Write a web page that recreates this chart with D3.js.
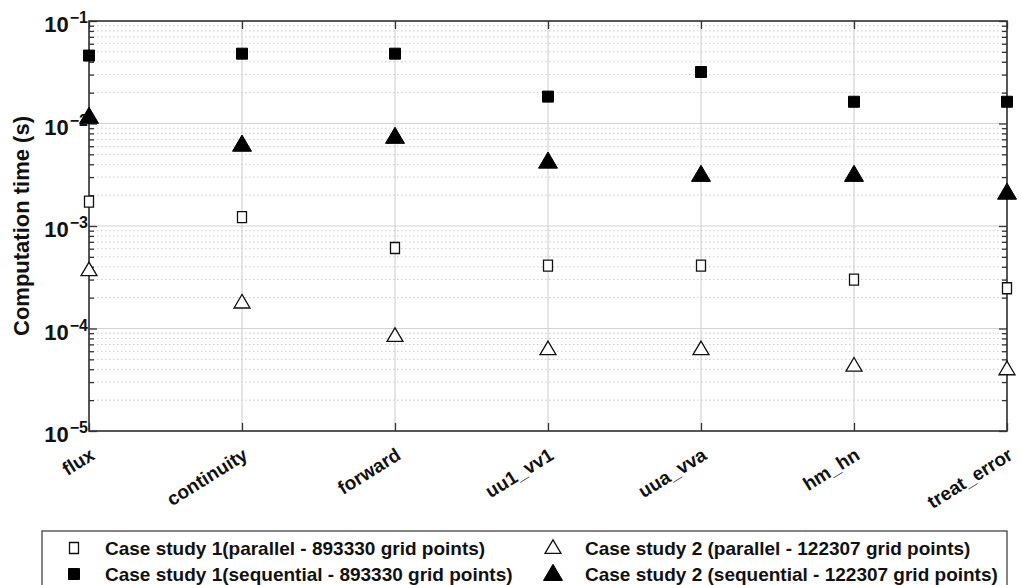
<!DOCTYPE html>
<meta charset="utf-8">
<script src="https://d3js.org/d3.v7.min.js"></script>
<style>
body { margin: 0; background: #fff; font-family: "Liberation Sans", Arial, sans-serif; }
text { font-family: "Liberation Sans", Arial, sans-serif; font-weight: bold; }
</style>
<div id="chart"></div>
<script>

// categories and measured timings (s)
var categories = ["flux", "continuity", "forward", "uu1_vv1", "uua_vva", "hm_hn", "treat_error"];
var case1Parallel   = [0.00173, 0.00122, 0.00061, 0.00041, 0.00041, 0.00030, 0.000247];
var case1Sequential = [0.046, 0.048, 0.048, 0.0183, 0.0318, 0.0163, 0.0163];
var case2Parallel   = [0.00037, 0.000179, 0.0000845, 0.0000627, 0.0000627, 0.0000434, 0.00004];
var case2Sequential = [0.0116, 0.0062, 0.0074, 0.00424, 0.00315, 0.00315, 0.00211];
var yTickExponents = [-1, -2, -3, -4, -5];
var legendLabels = [
  "Case study 1(parallel - 893330 grid points)",
  "Case study 1(sequential - 893330 grid points)",
  "Case study 2 (parallel - 122307 grid points)",
  "Case study 2 (sequential - 122307 grid points)"
];

var W = 1021, H = 585;
var margin = {top: 21, right: 14, bottom: 154, left: 89},
    width = W - margin.left - margin.right,
    height = H - margin.top - margin.bottom;

var svg = d3.select("#chart").append("svg")
    .attr("width", W)
    .attr("height", H);
var g = svg.append("g")
    .attr("transform", "translate(" + margin.left + "," + margin.top + ")");

var x = d3.scalePoint().domain(categories).range([0, width]).padding(0);
var y = d3.scaleLog().domain([1e-5, 1e-1]).range([height, 0]);

// minor values
var minors = [];
for (var e = -5; e < -1; e++) {
  for (var m = 2; m <= 9; m++) minors.push(m * Math.pow(10, e));
}
var majors = yTickExponents.map(function(d) { return Math.pow(10, d); });

// grid
g.append("g").selectAll("line").data(minors).enter().append("line")
  .attr("x1", 0).attr("x2", width)
  .attr("y1", function(d) { return y(d); }).attr("y2", function(d) { return y(d); })
  .attr("stroke", "#c8c8c8").attr("stroke-width", 1).attr("stroke-dasharray", "1.5,2.5");
g.append("g").selectAll("line").data(majors).enter().append("line")
  .attr("x1", 0).attr("x2", width)
  .attr("y1", function(d) { return y(d); }).attr("y2", function(d) { return y(d); })
  .attr("stroke", "#d4d4d4").attr("stroke-width", 1.2);
g.append("g").selectAll("line").data(categories).enter().append("line")
  .attr("x1", function(d) { return x(d); }).attr("x2", function(d) { return x(d); })
  .attr("y1", 0).attr("y2", height)
  .attr("stroke", "#d4d4d4").attr("stroke-width", 1.2);

// axes (ticks pointing inward)
var axisColor = "#333";
function styleAxis(sel) {
  sel.select(".domain").remove();
  sel.selectAll(".tick line").attr("stroke", axisColor).attr("stroke-width", 1.3);
  sel.selectAll(".tick text").remove();
}
g.append("g").call(d3.axisLeft(y).tickValues(majors).tickSize(-8)).call(styleAxis);
g.append("g").call(d3.axisLeft(y).tickValues(minors).tickSize(-5)).call(styleAxis);
g.append("g").attr("transform", "translate(" + width + ",0)")
  .call(d3.axisRight(y).tickValues(majors).tickSize(-8)).call(styleAxis);
g.append("g").attr("transform", "translate(" + width + ",0)")
  .call(d3.axisRight(y).tickValues(minors).tickSize(-5)).call(styleAxis);
g.append("g").call(d3.axisTop(x).tickSize(-8)).call(styleAxis);
g.append("g").attr("transform", "translate(0," + height + ")")
  .call(d3.axisBottom(x).tickSize(-8)).call(styleAxis);

g.append("rect")
  .attr("width", width).attr("height", height)
  .attr("fill", "none").attr("stroke", axisColor).attr("stroke-width", 1.6);

// y tick labels 10^n
var yl = g.append("g").selectAll("text").data(yTickExponents).enter().append("text")
  .attr("x", -1)
  .attr("y", function(d) { return y(Math.pow(10, d)) + 11; })
  .attr("text-anchor", "end")
  .style("font-size", "22px")
  .attr("fill", "#111");
yl.append("tspan").text("10");
yl.append("tspan").attr("dy", -9).attr("dx", 1).style("font-size", "16px")
  .text(function(d) { return "\u2212" + Math.abs(d); });

// x tick labels
g.append("g").selectAll("text").data(categories).enter().append("text")
  .attr("transform", function(d) { return "translate(" + (x(d) + 0) + "," + (height + 16) + ") rotate(-32)"; })
  .attr("text-anchor", "end")
  .attr("dy", "0.7em")
  .style("font-size", "19px")
  .attr("fill", "#111")
  .text(function(d) { return d; });

// y axis title
svg.append("text")
  .attr("transform", "translate(29," + (margin.top + height / 2) + ") rotate(-90)")
  .attr("text-anchor", "middle")
  .style("font-size", "22px")
  .attr("fill", "#111")
  .text("Computation time (s)");

// markers
function triPath(s) {
  var h = s * 0.85;
  return "M0," + (-h * 0.6) + "L" + (s / 2) + "," + (h * 0.4) + "L" + (-s / 2) + "," + (h * 0.4) + "Z";
}
function sqPath(w, h) {
  return "M" + (-w / 2) + "," + (-h / 2) + "h" + w + "v" + h + "h" + (-w) + "Z";
}

var series = [
  {vals: case1Parallel, path: sqPath(9, 11), fill: "#fff", stroke: "#111", sw: 1.3},
  {vals: case1Sequential, path: sqPath(11, 11), fill: "#000", stroke: "#000", sw: 1},
  {vals: case2Parallel, path: triPath(16), fill: "#fff", stroke: "#111", sw: 1.3},
  {vals: case2Sequential, path: triPath(19), fill: "#000", stroke: "#000", sw: 1}
];

series.forEach(function(s) {
  g.append("g").selectAll("path").data(s.vals).enter().append("path")
    .attr("transform", function(d, i) { return "translate(" + x(categories[i]) + "," + y(d) + ")"; })
    .attr("d", s.path)
    .attr("fill", s.fill)
    .attr("stroke", s.stroke)
    .attr("stroke-width", s.sw);
});

// legend
var lg = svg.append("g");
lg.append("rect")
  .attr("x", 42).attr("y", 531).attr("width", 965).attr("height", 70)
  .attr("fill", "#fff").attr("stroke", "#444").attr("stroke-width", 1.3);

var legendPos = [
  {mx: 74, tx: 105, y: 548, s: 0},
  {mx: 74, tx: 105, y: 574, s: 1},
  {mx: 553, tx: 585, y: 548, s: 2},
  {mx: 553, tx: 585, y: 574, s: 3}
];
legendPos.forEach(function(p, i) {
  var s = series[p.s];
  lg.append("path")
    .attr("transform", "translate(" + p.mx + "," + p.y + ")")
    .attr("d", s.path)
    .attr("fill", s.fill).attr("stroke", s.stroke).attr("stroke-width", s.sw);
  lg.append("text")
    .attr("x", p.tx).attr("y", p.y).attr("dy", "0.36em")
    .style("font-size", "19px")
    .attr("fill", "#111")
    .text(legendLabels[i]);
});

</script>
